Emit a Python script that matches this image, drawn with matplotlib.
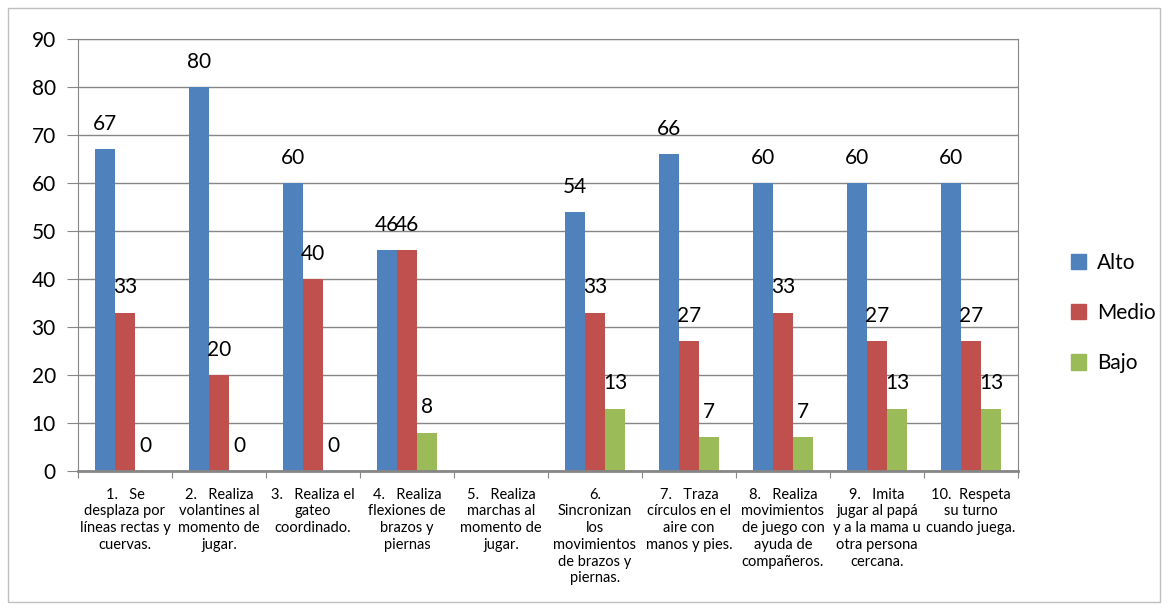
import numpy as np
import matplotlib.pyplot as plt
from matplotlib.patches import Rectangle, Patch

plt.rcParams['font.family'] = ['Lato', 'DejaVu Sans']

categorias = ["1.   Se\ndesplaza por\nlíneas rectas y\ncuervas.",
              "2.   Realiza\nvolantines al\nmomento de\njugar.",
              "3.   Realiza el\ngateo\ncoordinado.",
              "4.   Realiza\nflexiones de\nbrazos y\npiernas",
              "5.   Realiza\nmarchas al\nmomento de\njugar.",
              "6.\nSincronizan\nlos\nmovimientos\nde brazos y\npiernas.",
              "7.   Traza\ncírculos en el\naire con\nmanos y pies.",
              "8.   Realiza\nmovimientos\nde juego con\nayuda de\ncompañeros.",
              "9.   Imita\njugar al papá\ny a la mama u\notra persona\ncercana.",
              "10.  Respeta\nsu turno\ncuando juega."]
alto = [67, 80, 60, 46, np.nan, 54, 66, 60, 60, 60]
medio = [33, 20, 40, 46, np.nan, 33, 27, 33, 27, 27]
bajo = [0, 0, 0, 8, np.nan, 13, 7, 7, 13, 13]
series = ["Alto", "Medio", "Bajo"]
colores = ["#4F81BD", "#C0504D", "#9BBB59"]

fig = plt.figure(figsize=(11.68, 6.10), dpi=100)
fig.patches.append(Rectangle((8/1168, 8/610), 1152/1168, 594/610, transform=fig.transFigure,
                             fill=False, edgecolor='#BFBFBF', linewidth=1))
ax = fig.add_axes([78/1168, 1 - 471/610, 940/1168, 432/610])

x = np.arange(len(categorias))
w = 0.213
for i, (vals, nombre, c) in enumerate(zip([alto, medio, bajo], series, colores)):
    pos = x + (i - 1) * w
    ax.bar(pos, vals, width=w, color=c, label=nombre)
    for p, v in zip(pos, vals):
        if not np.isnan(v):
            ax.annotate(f"{v:.0f}", (p, v), xytext=(0, 11), textcoords='offset points',
                        ha='center', va='bottom', fontsize=15)

ax.set_xlim(-0.5, len(categorias) - 0.5)
ax.set_ylim(0, 90)
ax.set_yticks(range(0, 91, 10))
ax.yaxis.grid(True, color='#868686', linewidth=1)
ax.set_axisbelow(True)
ax.tick_params(axis='y', labelsize=15, length=8, color='#868686', pad=8)

ax.set_xticks(np.arange(-0.5, len(categorias), 1))
ax.set_xticklabels([])
ax.set_xticks(x, minor=True)
ax.set_xticklabels(categorias, minor=True, fontsize=10.5, linespacing=1.25)
ax.tick_params(axis='x', which='major', length=5, color='#868686')
ax.tick_params(axis='x', which='minor', length=0, pad=12)

for s in ax.spines.values():
    s.set_color('#868686')
ax.spines['bottom'].set_linewidth(2)

handles = [Patch(color=c, label=n) for c, n in zip(colores, series)]
fig.legend(handles=handles, loc='center left', bbox_to_anchor=(1052/1168, 1 - 313/610),
           frameon=False, fontsize=15, labelspacing=1.45, handlelength=0.75,
           handleheight=0.75, handletextpad=0.5)

plt.savefig('out.png', dpi=100)
